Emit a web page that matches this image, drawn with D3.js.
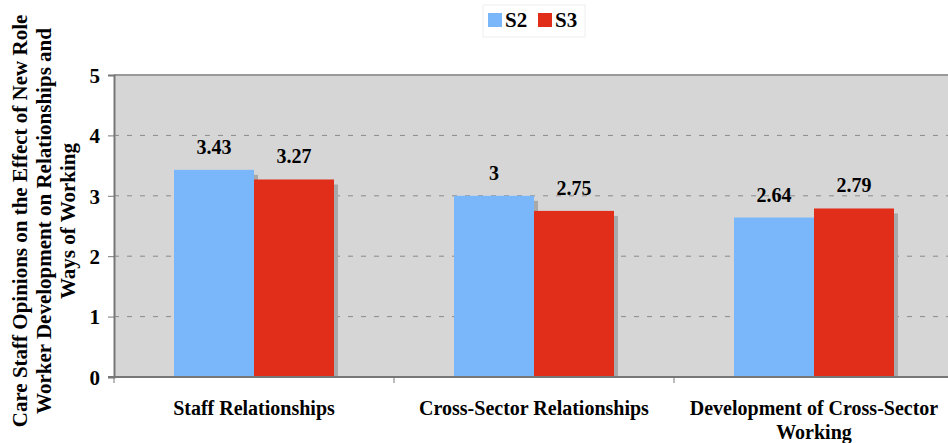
<!DOCTYPE html>
<html>
<head>
<meta charset="utf-8">
<script src="https://cdn.jsdelivr.net/npm/d3@7/dist/d3.min.js"></script>
<style>
  body { margin: 0; background: #fff; }
  svg text { font-family: "Liberation Serif", "Times New Roman", serif; font-weight: bold; fill: #000; }
</style>
</head>
<body>
<svg id="chart" width="948" height="443"></svg>
<script>
/* ── Data ─────────────────────────────────────────── */
const categories = [
  ['Staff Relationships'],
  ['Cross-Sector Relationships'],
  ['Development of Cross-Sector', 'Working']
];
const seriesNames = ['S2', 'S3'];
const s2Values = [3.43, 3, 2.64];
const s3Values = [3.27, 2.75, 2.79];
const yTicks = [0, 1, 2, 3, 4, 5];
const yTitle = [
  'Care Staff Opinions on the Effect of New Role',
  'Worker Development on Relationships and',
  'Ways of Working'
];

const colors = { S2: '#7ab7fa', S3: '#e02e1b' };

/* ── Layout ───────────────────────────────────────── */
const svg = d3.select('#chart');
const plotL = 114, plotR = 954, plotT = 75, plotB = 377;

const x = d3.scaleBand().domain(d3.range(categories.length)).range([plotL, plotR]);
const xs = d3.scaleBand().domain(seriesNames).range([0, x.bandwidth()]).paddingInner(0).paddingOuter(0.75);
const y = d3.scaleLinear().domain([0, 5]).range([plotB, plotT]);

// plot background
svg.append('rect')
  .attr('x', plotL).attr('y', plotT)
  .attr('width', plotR - plotL).attr('height', plotB - plotT)
  .attr('fill', '#d6d6d6');

// gridlines
svg.append('g').selectAll('line')
  .data(yTicks.filter(t => t > 0 && t < 5)).join('line')
  .attr('x1', plotL).attr('x2', plotR)
  .attr('y1', d => y(d)).attr('y2', d => y(d))
  .attr('stroke', '#8a8a8a').attr('stroke-width', 1)
  .attr('stroke-dasharray', '5,8');

// top border
svg.append('line')
  .attr('x1', plotL).attr('x2', plotR).attr('y1', plotT).attr('y2', plotT)
  .attr('stroke', '#999').attr('stroke-width', 2);

/* ── Bars ─────────────────────────────────────────── */
const rows = categories.map((c, i) => ({ i, vals: [
  { key: 'S2', v: s2Values[i] },
  { key: 'S3', v: s3Values[i] }
]}));

const groups = svg.append('g').selectAll('g')
  .data(rows).join('g')
  .attr('transform', d => `translate(${x(d.i)},0)`);

// shadows first
groups.selectAll('rect.shadow')
  .data(d => d.vals).join('rect')
  .attr('class', 'shadow')
  .attr('x', d => xs(d.key) + 4)
  .attr('y', d => y(d.v) + 5)
  .attr('width', xs.bandwidth())
  .attr('height', d => plotB - y(d.v) - 5)
  .attr('fill', '#a9a9a9');

groups.selectAll('rect.bar')
  .data(d => d.vals).join('rect')
  .attr('class', 'bar')
  .attr('x', d => xs(d.key))
  .attr('y', d => y(d.v))
  .attr('width', xs.bandwidth())
  .attr('height', d => plotB - y(d.v))
  .attr('fill', d => colors[d.key]);

groups.selectAll('text.val')
  .data(d => d.vals).join('text')
  .attr('class', 'val')
  .attr('x', d => xs(d.key) + xs.bandwidth() / 2)
  .attr('y', d => y(d.v) - 16)
  .attr('text-anchor', 'middle')
  .style('font-size', '20px')
  .text(d => d.v);

/* ── Axes ─────────────────────────────────────────── */
const yAxis = svg.append('g')
  .attr('transform', `translate(${plotL},0)`)
  .call(d3.axisLeft(y).tickValues(yTicks).tickSize(6).tickPadding(8).tickFormat(d3.format('d')));
yAxis.select('.domain').attr('stroke', '#777').attr('stroke-width', 2);
yAxis.selectAll('.tick line').attr('stroke', '#777');
yAxis.selectAll('text').style('font-size', '21px').attr('dy', '0.35em');

const xAxis = svg.append('g')
  .attr('transform', `translate(0,${plotB})`);
xAxis.append('line')
  .attr('x1', plotL - 6).attr('x2', plotR).attr('y1', 0).attr('y2', 0)
  .attr('stroke', '#777').attr('stroke-width', 2);
xAxis.selectAll('line.tick')
  .data(d3.range(categories.length + 1)).join('line')
  .attr('class', 'tick')
  .attr('x1', d => plotL + d * x.bandwidth()).attr('x2', d => plotL + d * x.bandwidth())
  .attr('y1', 0).attr('y2', 6)
  .attr('stroke', '#777');

const catLabels = xAxis.selectAll('text.cat')
  .data(categories).join('text')
  .attr('class', 'cat')
  .attr('text-anchor', 'middle')
  .attr('x', (d, i) => x(i) + x.bandwidth() / 2)
  .attr('y', 38)
  .style('font-size', '20px');
catLabels.selectAll('tspan')
  .data(d => d).join('tspan')
  .attr('x', function () { return d3.select(this.parentNode).attr('x'); })
  .attr('dy', (d, i) => i === 0 ? 0 : 24)
  .text(d => d);

// y title
const yt = svg.append('text')
  .attr('transform', 'translate(20,221) rotate(-90)')
  .attr('text-anchor', 'middle')
  .style('font-size', '21px');
yt.selectAll('tspan')
  .data(yTitle).join('tspan')
  .attr('x', 0)
  .attr('dy', (d, i) => i === 0 ? '0.33em' : 24)
  .text(d => d);

/* ── Legend ───────────────────────────────────────── */
const legend = svg.append('g').attr('transform', 'translate(483,5)');
legend.append('rect')
  .attr('width', 102).attr('height', 32)
  .attr('fill', '#fff').attr('stroke', '#eee');
const li = legend.selectAll('g.item')
  .data(seriesNames).join('g')
  .attr('class', 'item')
  .attr('transform', (d, i) => `translate(${5 + i * 50},8)`);
li.append('rect')
  .attr('width', 14).attr('height', 14)
  .attr('fill', d => colors[d]);
li.append('text')
  .attr('x', 17).attr('y', 14)
  .style('font-size', '21px')
  .text(d => d);
</script>
</body>
</html>
